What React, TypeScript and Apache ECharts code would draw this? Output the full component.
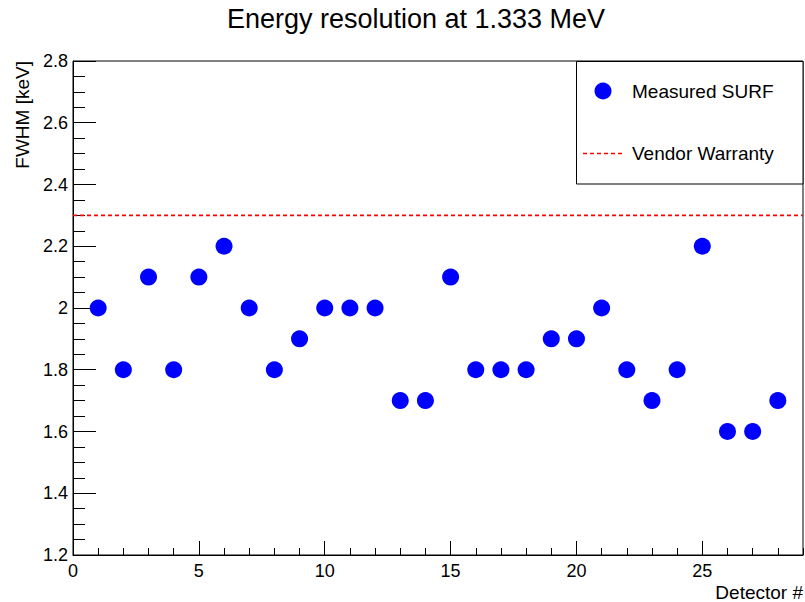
import React, { useEffect, useRef } from "react";
import * as echarts from "echarts";

const detectors = [1, 2, 3, 4, 5, 6, 7, 8, 9, 10, 11, 12, 13, 14, 15, 16, 17, 18, 19, 20, 21, 22, 23, 24, 25, 26, 27, 28];
const fwhm = [2.0, 1.8, 2.1, 1.8, 2.1, 2.2, 2.0, 1.8, 1.9, 2.0, 2.0, 2.0, 1.7, 1.7, 2.1, 1.8, 1.8, 1.8, 1.9, 1.9, 2.0, 1.8, 1.7, 1.8, 2.2, 1.6, 1.6, 1.7];
const warranty = 2.3;
const xRange = [0, 29];
const yRange = [1.2, 2.8];
const titleText = "Energy resolution at 1.333 MeV";
const xName = "Detector #";
const yName = "FWHM [keV]";
const legendNames = ["Measured SURF", "Vendor Warranty"];

const FONT = "'Liberation Sans', Arial, Helvetica, sans-serif";

export default function App() {
  const ref = useRef<HTMLDivElement>(null);
  useEffect(() => {
    if (!ref.current) return;
    const chart = echarts.init(ref.current, null, { renderer: "svg" });
    const tickLine = { color: "#000", width: 1 };
    chart.setOption({
      animation: false,
      backgroundColor: "#fff",
      grid: {
        left: 73,
        right: 2,
        top: 61,
        bottom: 47,
        show: true,
        borderColor: "#000",
        borderWidth: 1,
        backgroundColor: "transparent",
      },
      xAxis: [
        {
          type: "value",
          min: xRange[0],
          max: xRange[1],
          interval: 5,
          position: "bottom",
          axisLine: { show: true, lineStyle: tickLine },
          axisTick: { show: true, inside: true, length: 14, lineStyle: tickLine },
          splitLine: { show: false },
          axisLabel: {
            show: true,
            showMaxLabel: false,
            margin: 7,
            fontSize: 18,
            fontFamily: FONT,
            color: "#000",
            formatter: (v: number) => (v % 5 === 0 ? String(v) : ""),
          },
        },
        {
          type: "value",
          min: xRange[0],
          max: xRange[1],
          interval: 1,
          position: "bottom",
          axisLine: { show: false },
          axisTick: { show: true, inside: true, length: 7, lineStyle: tickLine },
          splitLine: { show: false },
          axisLabel: { show: false },
        },
      ],
      yAxis: [
        {
          type: "value",
          min: yRange[0],
          max: yRange[1],
          interval: 0.2,
          position: "left",
          axisLine: { show: true, lineStyle: tickLine },
          axisTick: { show: true, inside: true, length: 23, lineStyle: tickLine },
          splitLine: { show: false },
          axisLabel: {
            show: true,
            margin: 5,
            fontSize: 18,
            fontFamily: FONT,
            color: "#000",
            formatter: (v: number) => String(Math.round(v * 10) / 10),
          },
        },
        {
          type: "value",
          min: yRange[0],
          max: yRange[1],
          interval: 0.05,
          position: "left",
          axisLine: { show: false },
          axisTick: { show: true, inside: true, length: 12, lineStyle: tickLine },
          splitLine: { show: false },
          axisLabel: { show: false },
        },
      ],
      series: [
        {
          name: legendNames[1],
          type: "line",
          xAxisIndex: 0,
          yAxisIndex: 0,
          symbol: "none",
          silent: true,
          lineStyle: { color: "#ff0000", type: [4, 3], width: 1.6 },
          data: [
            [xRange[0], warranty],
            [xRange[1], warranty],
          ],
          z: 1,
        },
        {
          name: legendNames[0],
          type: "scatter",
          xAxisIndex: 0,
          yAxisIndex: 0,
          symbol: "circle",
          symbolSize: 17,
          itemStyle: { color: "#0000ff", opacity: 1 },
          data: detectors.map((d, i) => [d, fwhm[i]]),
          z: 3,
        },
      ],
      graphic: [
        {
          type: "text",
          x: 416,
          y: 19,
          style: {
            text: titleText,
            fontSize: 27,
            fontFamily: FONT,
            fill: "#000",
            align: "center",
            verticalAlign: "middle",
          },
        },
        {
          type: "text",
          x: 803,
          y: 592,
          style: {
            text: xName,
            fontSize: 19,
            fontFamily: FONT,
            fill: "#000",
            align: "right",
            verticalAlign: "middle",
          },
        },
        {
          type: "text",
          x: 22,
          y: 61,
          rotation: Math.PI / 2,
          style: {
            text: yName,
            fontSize: 19,
            fontFamily: FONT,
            fill: "#000",
            align: "right",
            verticalAlign: "middle",
          },
        },
        {
          type: "rect",
          shape: { x: 576.5, y: 61.5, width: 226.5, height: 122.5 },
          style: { fill: "#fff", stroke: "#000", lineWidth: 1 },
          z: 10,
        },
        {
          type: "circle",
          shape: { cx: 603, cy: 91, r: 8.5 },
          style: { fill: "#0000ff" },
          z: 11,
        },
        {
          type: "text",
          x: 632,
          y: 91,
          z: 11,
          style: {
            text: legendNames[0],
            fontSize: 19,
            fontFamily: FONT,
            fill: "#000",
            align: "left",
            verticalAlign: "middle",
          },
        },
        {
          type: "line",
          shape: { x1: 583, y1: 153.5, x2: 625, y2: 153.5 },
          style: { stroke: "#ff0000", lineWidth: 1.6, lineDash: [4, 3] },
          z: 11,
        },
        {
          type: "text",
          x: 632,
          y: 153,
          z: 11,
          style: {
            text: legendNames[1],
            fontSize: 19,
            fontFamily: FONT,
            fill: "#000",
            align: "left",
            verticalAlign: "middle",
          },
        },
      ],
    });
    return () => chart.dispose();
  }, []);
  return <div ref={ref} style={{ width: 805, height: 602, position: "absolute", left: 0, top: 0 }} />;
}
